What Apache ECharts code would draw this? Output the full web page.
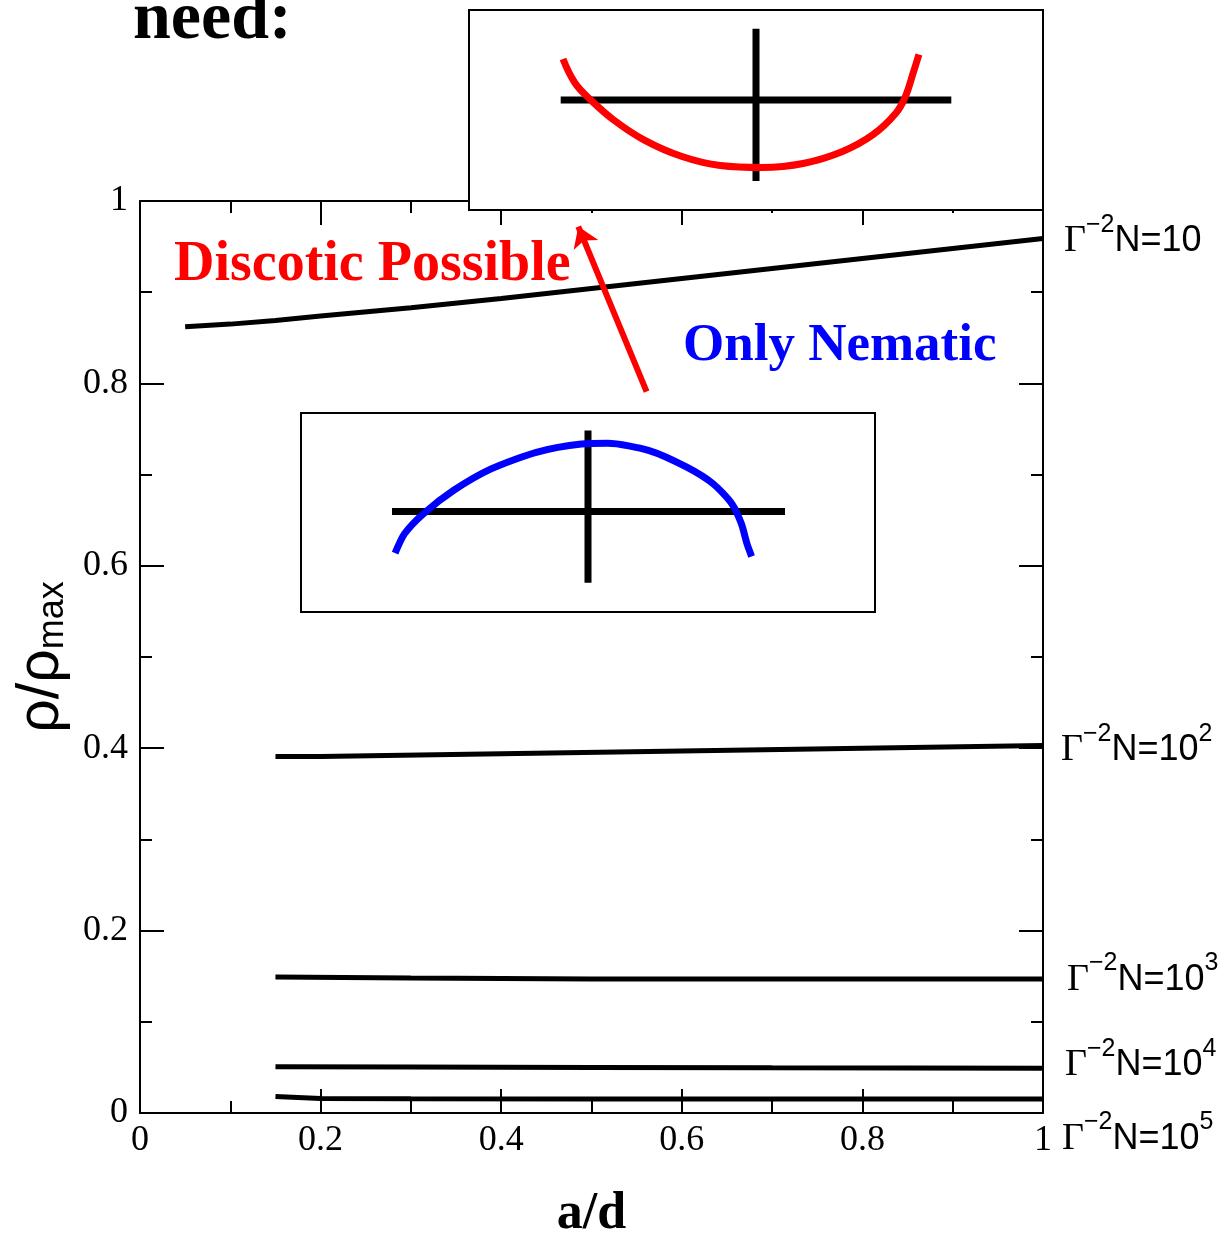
<!DOCTYPE html>
<html>
<head>
<meta charset="utf-8">
<script src="https://cdn.jsdelivr.net/npm/echarts@6/dist/echarts.min.js"></script>
<style>
html,body{margin:0;padding:0;background:#fff;}
#chart{width:1228px;height:1240px;}
</style>
</head>
<body>
<div id="chart"></div>
<script>
// ---- tick labels ----
const xTicks = [0, 0.2, 0.4, 0.6, 0.8, 1];
const yTicks = [0, 0.2, 0.4, 0.6, 0.8, 1];

// ---- main curves (a/d, rho/rho_max) ----
const curve1X = [0.05, 0.1, 0.15, 0.2, 0.3, 0.4, 0.5, 0.6, 0.7, 0.8, 0.9, 1.0];
const curve1Y = [0.862, 0.865, 0.869, 0.874, 0.883, 0.893, 0.904, 0.915, 0.926, 0.937, 0.948, 0.959];
const curve2X = [0.15, 0.2, 0.4, 0.6, 0.8, 1.0];
const curve2Y = [0.391, 0.391, 0.394, 0.397, 0.400, 0.403];
const curve3X = [0.15, 0.3, 0.5, 0.7, 1.0];
const curve3Y = [0.149, 0.148, 0.147, 0.147, 0.147];
const curve4X = [0.15, 0.3, 0.5, 0.7, 1.0];
const curve4Y = [0.0508, 0.0505, 0.050, 0.0495, 0.049];
const curve5X = [0.15, 0.2, 0.3, 0.5, 1.0];
const curve5Y = [0.018, 0.0158, 0.0155, 0.0154, 0.0153];
const curveExp = ['', '2', '3', '4', '5'];

// ---- annotation arrow (data coords of main plot) ----
const arrowFrom = [0.561, 0.791];
const arrowTo = [0.4854, 0.972];

// ---- inset sketches (inset-local units, cross centre at 0,0) ----
const crossUpperH = [[-1.953, 0], [1.953, 0]];
const crossUpperV = [[0, 0.713], [0, -0.809]];
const discoticX = [-1.93, -1.81, -1.656, -1.426, -1.121, -0.74, -0.357, 0.063, 0.483, 0.865, 1.17, 1.40, 1.495, 1.572, 1.629];
const discoticY = [0.41, 0.17, 0.004, -0.197, -0.398, -0.565, -0.655, -0.675, -0.632, -0.515, -0.347, -0.13, 0.037, 0.271, 0.455];
const crossLowerH = [[-1.96, 0], [1.97, 0]];
const crossLowerV = [[0, 0.809], [0, -0.712]];
const nematicX = [-1.929, -1.835, -1.647, -1.346, -0.969, -0.517, -0.066, 0.198, 0.612, 0.988, 1.252, 1.44, 1.534, 1.59, 1.636];
const nematicY = [-0.416, -0.223, -0.023, 0.21, 0.426, 0.592, 0.675, 0.682, 0.609, 0.443, 0.276, 0.076, -0.123, -0.323, -0.449];

const zip = (xs, ys) => xs.map((x, i) => [x, ys[i]]);

const curves = [[curve1X, curve1Y], [curve2X, curve2Y], [curve3X, curve3Y], [curve4X, curve4Y], [curve5X, curve5Y]];
const endLabelOffsets = [[21, 3], [18, 5], [24, 1], [22, -3], [19, 40]];

const serif = '"Liberation Serif", "Times New Roman", serif';
const sans = '"Liberation Sans", Arial, sans-serif';

const labelRich = {
  g: {fontFamily: serif, fontSize: 38, lineHeight: 58, color: '#000'},
  t: {fontFamily: sans, fontSize: 36, lineHeight: 58, color: '#000'},
  sup: {fontFamily: sans, fontSize: 25, lineHeight: 25, verticalAlign: 'top', color: '#000'}
};

const mainSeries = curves.map((c, i) => ({
  type: 'line',
  xAxisIndex: 0, yAxisIndex: 0,
  data: zip(c[0], c[1]),
  showSymbol: false,
  symbol: 'none',
  lineStyle: {color: '#000', width: 5},
  z: 3,
  silent: true,
  endLabel: {
    show: true,
    distance: 0,
    offset: endLabelOffsets[i],
    formatter: () => '{g|Γ}{sup|−2}{t|N=10}' + (curveExp[i] ? '{sup|' + curveExp[i] + '}' : ''),
    rich: labelRich
  }
}));

const xMin = xTicks[0], xMax = xTicks[xTicks.length - 1], xInt = xTicks[1] - xTicks[0];
const yMin = yTicks[0], yMax = yTicks[yTicks.length - 1], yInt = yTicks[1] - yTicks[0];

function mainAxis(isX, pos, showLabel) {
  return {
    type: 'value',
    gridIndex: 0,
    position: pos,
    min: isX ? xMin : yMin,
    max: isX ? xMax : yMax,
    interval: isX ? xInt : yInt,
    z: 0,
    axisLine: {show: true, onZero: false, lineStyle: {color: '#000', width: 2}},
    axisTick: {show: true, inside: true, length: 24, lineStyle: {color: '#000', width: 2}},
    minorTick: {show: true, splitNumber: 2, length: 12, lineStyle: {color: '#000', width: 2}},
    splitLine: {show: false},
    axisLabel: {
      show: showLabel,
      fontFamily: serif, fontSize: 36, color: '#000',
      margin: isX ? 10 : 12
    }
  };
}

function insetAxis(grid, min, max) {
  return {type: 'value', gridIndex: grid, min: min, max: max, show: false};
}

// inset grid g uses xAxis/yAxis index g + 1 (index 1 is the main top/right axis)
const insetLine = (grid, data, color, smooth) => ({
  type: 'line',
  xAxisIndex: grid + 1, yAxisIndex: grid + 1,
  data: data,
  showSymbol: false, symbol: 'none',
  smooth: smooth,
  lineStyle: {color: color, width: 7},
  z: 20, silent: true
});

const chart = echarts.init(document.getElementById('chart'), null, {renderer: 'canvas'});
chart.setOption({
  animation: false,
  backgroundColor: '#fff',
  grid: [
    {left: 140, top: 201, width: 903, height: 912, show: false, containLabel: false, outerBoundsMode: 'none'},
    {left: 469, top: 10, width: 574, height: 200, show: true, backgroundColor: '#fff', borderColor: '#000', borderWidth: 2, z: 10, outerBoundsMode: 'none'},
    {left: 301, top: 413, width: 574, height: 199, show: true, backgroundColor: '#fff', borderColor: '#000', borderWidth: 2, z: 10, outerBoundsMode: 'none'}
  ],
  xAxis: [
    Object.assign(mainAxis(true, 'bottom', true), {
      name: 'a/d', nameLocation: 'middle', nameGap: 76,
      nameTextStyle: {fontFamily: serif, fontSize: 52, fontWeight: 'bold', color: '#000'}
    }),
    mainAxis(true, 'top', false),
    insetAxis(1, -2.87, 2.87),
    insetAxis(2, -2.87, 2.87)
  ],
  yAxis: [
    Object.assign(mainAxis(false, 'left', true), {
      name: '{r|ρ/ρ}{s|max}', nameLocation: 'middle', nameGap: 69,
      nameTextStyle: {
        color: '#000',
        rich: {
          r: {fontFamily: sans, fontSize: 59, lineHeight: 59, verticalAlign: 'top', color: '#000'},
          s: {fontFamily: sans, fontSize: 36, lineHeight: 36, verticalAlign: 'bottom', padding: [38, 0, 0, 0], color: '#000'}
        }
      }
    }),
    mainAxis(false, 'right', false),
    insetAxis(1, -1.10, 0.90),
    insetAxis(2, -1.005, 0.985)
  ],
  series: mainSeries.concat([
    {
      type: 'lines',
      coordinateSystem: 'cartesian2d',
      xAxisIndex: 0, yAxisIndex: 0,
      polyline: false,
      symbol: ['none', 'arrow'],
      symbolSize: 20,
      lineStyle: {color: '#ff0000', width: 6, opacity: 1, curveness: 0},
      data: [{coords: [arrowFrom, arrowTo]}],
      z: 6, silent: true
    },
    insetLine(1, crossUpperH, '#000', false),
    insetLine(1, crossUpperV, '#000', false),
    Object.assign(insetLine(1, zip(discoticX, discoticY), '#ff0000', 0.4), {z: 21}),
    insetLine(2, crossLowerH, '#000', false),
    insetLine(2, crossLowerV, '#000', false),
    Object.assign(insetLine(2, zip(nematicX, nematicY), '#0000ff', 0.25), {z: 21})
  ]),
  graphic: [
    {type: 'text', left: 133, top: -14, z: 50, style: {text: 'need:', font: 'bold 68px ' + serif, fill: '#000'}},
    {type: 'text', x: 174, y: 266, z: 50, style: {text: 'Discotic Possible', font: 'bold 56px ' + serif, fill: '#ff0000', textVerticalAlign: 'middle'}},
    {type: 'text', x: 683, y: 346, z: 50, style: {text: 'Only Nematic', font: 'bold 53px ' + serif, fill: '#0000ff', textVerticalAlign: 'middle'}}
  ]
});
</script>
</body>
</html>
